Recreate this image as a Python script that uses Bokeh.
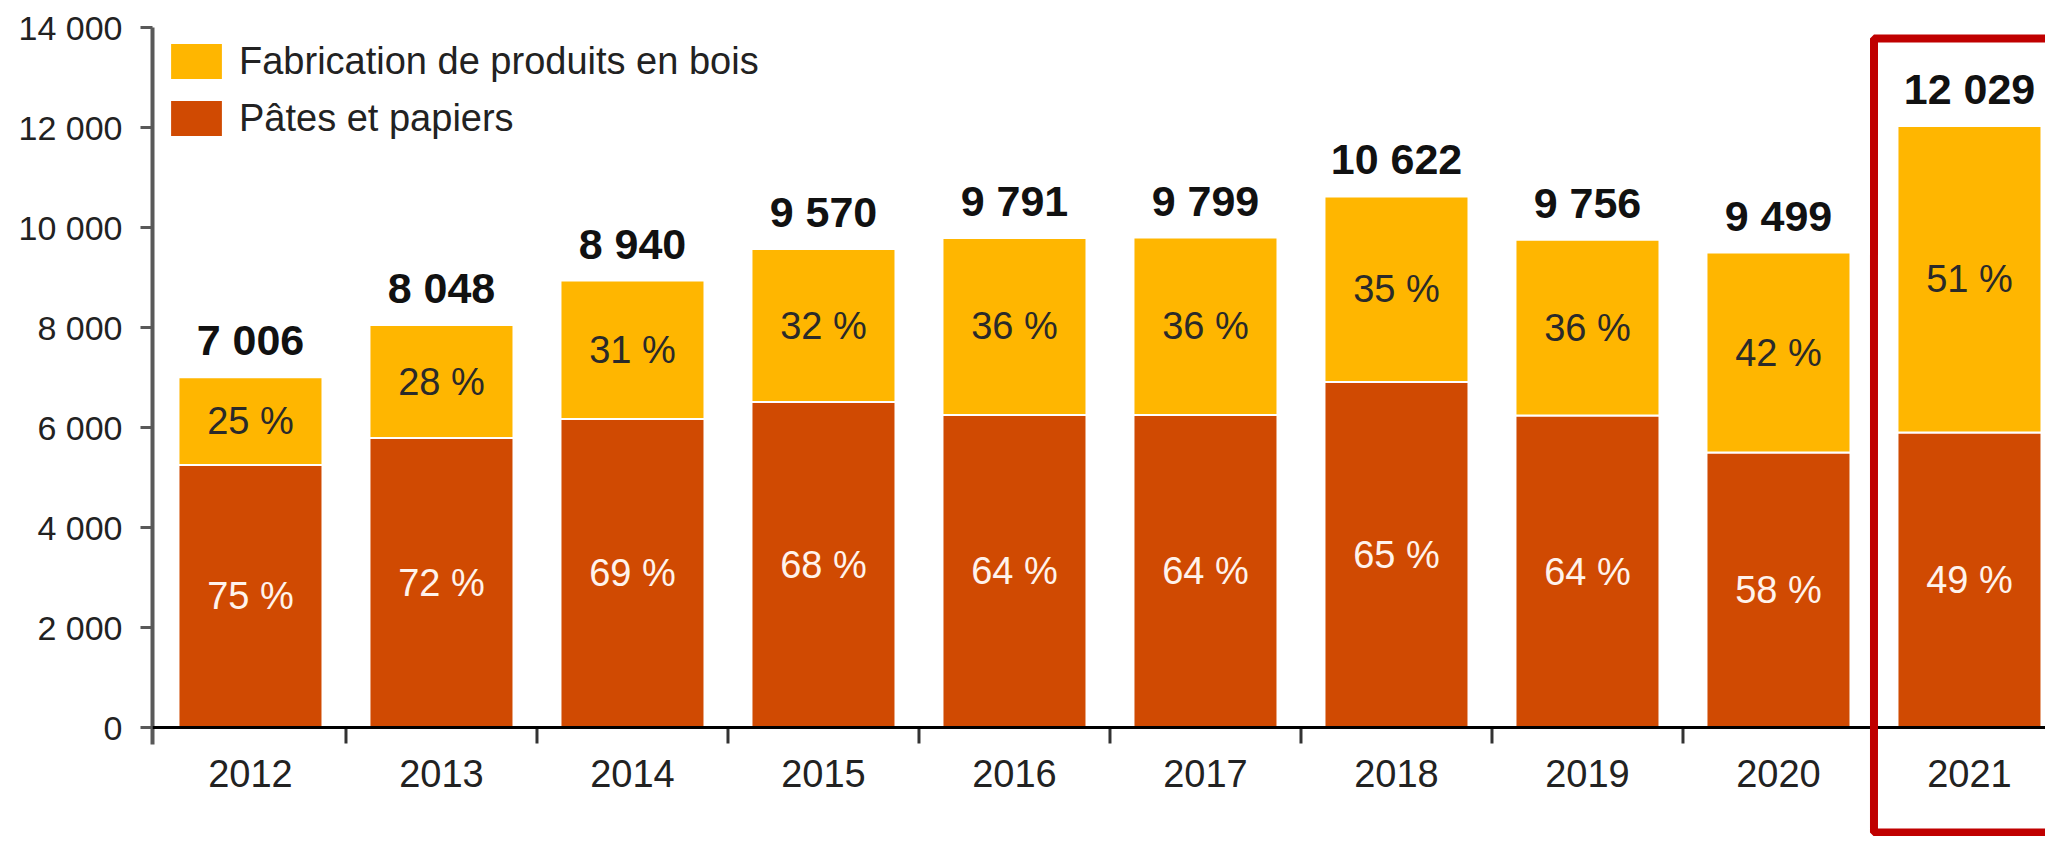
import numpy as np
from bokeh.plotting import figure
from bokeh.models import (Range1d, FixedTicker, Legend, LegendItem, BoxAnnotation,
                          ColumnDataSource, Span)
from bokeh.core.properties import value
from bokeh.embed import file_html
from bokeh.resources import INLINE

# ---- data ----
years = ["2012", "2013", "2014", "2015", "2016", "2017", "2018", "2019", "2020", "2021"]
totals = [7006, 8048, 8940, 9570, 9791, 9799, 10622, 9756, 9499, 12029]
pates = [5250, 5790, 6170, 6510, 6250, 6250, 6910, 6240, 5500, 5900]
pct_bois = [25, 28, 31, 32, 36, 36, 35, 36, 42, 51]
pct_pates = [75, 72, 69, 68, 64, 64, 65, 64, 58, 49]
series_names = ["Fabrication de produits en bois", "Pâtes et papiers"]
series_colors = ["#FFB600", "#D04A02"]
y_ticks = [0, 2000, 4000, 6000, 8000, 10000, 12000, 14000]
highlight_year = "2021"

FONT = "Liberation Sans"

# ---- layout (pixels) ----
W, H = 2045, 836
TOP, LEFT = 27, 152
PX_PER_UNIT = 0.05          # 2 000 units = 100 px
frame_h = H - TOP
y_max = y_ticks[-1]
y_min = y_max - frame_h / PX_PER_UNIT   # frame extends below 0 to the canvas bottom


def fmt(n):
    return f"{n:,}".replace(",", " ")


n = len(years)
x = list(range(n))
bois = [t - p for t, p in zip(totals, pates)]
src = ColumnDataSource(dict(
    x=x, pates=pates, bois=bois, totals=totals,
    total_lbl=[fmt(t) for t in totals],
    bois_lbl=[f"{v} %" for v in pct_bois],
    pates_lbl=[f"{v} %" for v in pct_pates],
    bois_mid=[p + b / 2 for p, b in zip(pates, bois)],
    pates_mid=[p / 2 for p in pates],
    zero=[0] * n, year=years,
))

x_start = -0.513
x_end = x_start + (W - LEFT) / 191.0

p = figure(width=W, height=H, output_backend="svg", toolbar_location=None,
           x_range=Range1d(x_start, x_end), y_range=Range1d(y_min, y_max),
           x_axis_location=None,
           min_border_left=LEFT, min_border_right=0, min_border_top=TOP,
           min_border_bottom=0)
p.outline_line_color = None
p.xgrid.visible = False
p.ygrid.visible = False
p.background_fill_color = "white"
p.border_fill_color = "white"

renderers = p.vbar_stack(["pates", "bois"], x="x", width=0.754, source=src,
                         color=series_colors[::-1], line_color="white", line_width=2)
r_pates, r_bois = renderers

# ---- x axis drawn at y = 0 ----
p.add_layout(Span(location=0, dimension="width", line_color="black", line_width=3))
tick_len = 16 / PX_PER_UNIT
bnd = [i + 0.5 for i in range(n - 1)]
p.segment(x0=bnd, y0=[0] * len(bnd), x1=bnd, y1=[-tick_len] * len(bnd),
          line_color="#333333", line_width=3)
p.text(x="x", y="zero", text="year", source=src, text_font=value(FONT),
       text_font_size="38px", text_align="center", text_baseline="middle",
       y_offset=46, text_color="#222222")

# ---- value labels ----
p.text(x="x", y="totals", text="total_lbl", source=src, text_font=value(FONT),
       text_font_style="bold", text_font_size="43px", text_align="center",
       text_baseline="middle", y_offset=-37, text_color="#111111")
p.text(x="x", y="bois_mid", text="bois_lbl", source=src, text_font=value(FONT),
       text_font_size="38px", text_align="center", text_baseline="middle",
       text_color="#2a2a2a")
p.text(x="x", y="pates_mid", text="pates_lbl", source=src, text_font=value(FONT),
       text_font_size="38px", text_align="center", text_baseline="middle",
       text_color="#FFF3EC")

# ---- y axis ----
ya = p.yaxis[0]
ya.ticker = FixedTicker(ticks=y_ticks)
ya.bounds = (-tick_len - 20, y_max)
ya.major_label_overrides = {t: fmt(t) for t in y_ticks}
ya.axis_line_color = "#595959"
ya.axis_line_width = 4
ya.major_tick_line_color = "#595959"
ya.major_tick_line_width = 3
ya.major_tick_out = 12
ya.major_tick_in = 0
ya.minor_tick_line_color = None
ya.major_label_text_font = FONT
ya.major_label_text_font_size = "34px"
ya.major_label_text_color = "#222222"
ya.major_label_standoff = 18

# ---- legend ----
legend = Legend(items=[LegendItem(label=series_names[0], renderers=[r_bois]),
                       LegendItem(label=series_names[1], renderers=[r_pates])],
                location="top_left", glyph_width=66, glyph_height=46, label_height=35,
                label_standoff=10, spacing=11, padding=19, margin=11,
                border_line_color=None, background_fill_alpha=0,
                label_text_font=FONT, label_text_font_size="38px",
                label_text_color="#222222")
p.add_layout(legend)

# ---- highlight box around the last year ----
hi = years.index(highlight_year)
box = BoxAnnotation(left=hi - 0.5, right=x_end + 1.0, top=(727 - 38) / PX_PER_UNIT,
                    bottom=y_min + 4 / PX_PER_UNIT,
                    fill_alpha=0, line_color="#C00000", line_alpha=1.0,
                    line_width=8, level="overlay")
p.add_layout(box)

open("out.html", "w").write(file_html(p, INLINE))
